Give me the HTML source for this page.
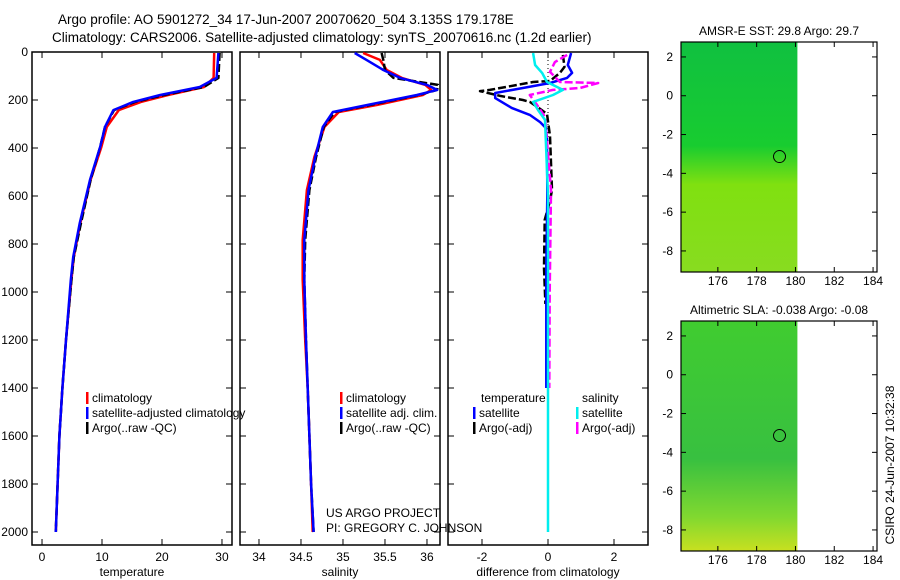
<!DOCTYPE html>
<html><head><meta charset="utf-8"><style>
body{margin:0;background:#fff}
svg{display:block;font-family:"Liberation Sans",sans-serif}
</style></head><body>
<svg id="fig" width="900" height="580" viewBox="0 0 900 580" xmlns="http://www.w3.org/2000/svg">
<text x="58" y="24" font-size="13.5">Argo profile: AO 5901272_34 17-Jun-2007 20070620_504 3.135S 179.178E</text>
<text x="52" y="42" font-size="13.5">Climatology: CARS2006. Satellite-adjusted climatology: synTS_20070616.nc (1.2d earlier)</text>
<g id="charts"></g>
<text transform="translate(894,465) rotate(-90)" font-size="12" text-anchor="middle">CSIRO 24-Jun-2007 10:32:38</text>
</svg>
<script>
// ---- data ----
const depthTicks=[0,200,400,600,800,1000,1200,1400,1600,1800,2000];
const tempTicks=[0,10,20,30];
const salTicks=[34,34.5,35,35.5,36];
const diffTicks=[-2,0,2];
const lonTicks=[176,178,180,182,184];
const latTicks=[2,0,-2,-4,-6,-8];
const tDepth=[4,108,146,179,208,242,312,395,533,712,854,950,1200,1400,1600,1800,2000];
const tSat=[29.4,29.1,26.3,19.7,15.2,11.9,10.5,9.7,8,6.3,5.2,4.8,4.0,3.4,2.9,2.6,2.3];
const tClim=[28.7,28.6,27.0,21.0,16.5,12.8,10.8,9.9,8.1,6.4,5.3,4.9,4.0,3.4,2.9,2.6,2.3];
const tArgo=[29.6,29.4,27.0,20.3,15.5,12.0,10.5,9.7,8.1,6.5,5.3,4.9,4.0,3.4,2.9,2.6,2.3];
const sDepth=[4,33,75,108,137,158,179,221,250,312,437,575,783,950,1200,1400,1600,1800,2000];
const sSat=[35.14,35.28,35.48,35.68,36.0,36.12,35.88,35.29,34.88,34.76,34.67,34.59,34.54,34.54,34.56,34.58,34.6,34.62,34.65];
const sClim=[35.24,35.44,35.52,35.7,35.98,36.05,35.95,35.4,34.95,34.78,34.66,34.57,34.52,34.52,34.55,34.58,34.6,34.62,34.64];
const sArgo=[35.46,35.48,35.5,35.6,36.13,36.12,35.9,35.32,34.9,34.77,34.68,34.6,34.55,34.54,34.56,34.58,34.6,34.62,34.65];
const dtDepth=[4,54,87,108,129,150,171,192,233,262,292,317,367,600,900,1200,1400];
const dtSat=[0.7,0.6,0.73,0.58,0.06,-0.76,-1.6,-1.6,-1.1,-0.55,-0.24,-0.06,-0.03,-0.02,-0.05,-0.05,-0.05];
const daDepth=[12,62,87,121,125,158,163,183,200,208,237,258,350,575,620,700,900,1050];
const daTemp=[0.45,0.5,0.36,0.06,-0.45,-1.76,-2.06,-1.45,-0.76,-0.55,-0.24,-0.03,0.06,0.12,0.06,-0.1,-0.12,-0.08];
const dsDepth=[4,54,87,125,158,179,208,242,283,600,1000,1500,2000];
const dsSat=[-0.45,-0.39,-0.18,-0.03,0.45,0.15,-0.45,-0.3,-0.09,0,0,0,0];
const dsaDepth=[12,42,83,125,129,150,158,179,221,271,575,1000,1400];
const dsArgo=[0.58,0.21,0.06,0.36,1.52,0.97,0.15,-0.55,-0.33,-0.09,0.09,0.05,0.04];
const argoLon=179.178, argoLat=-3.135;
// ---- helpers ----
const NS="http://www.w3.org/2000/svg";
const root=document.getElementById('charts');
function el(tag,attrs,parent){const e=document.createElementNS(NS,tag);for(const k in attrs)e.setAttribute(k,attrs[k]);(parent||root).appendChild(e);return e;}
function txt(x,y,s,anchor,size,parent){const t=el('text',{x:x,y:y,'font-size':size||12,'text-anchor':anchor||'start'},parent);t.textContent=s;return t;}
const yD=d=>52+d*0.24;
function panel(name,x0,x1,xmin,xmax,xticks,label,showY){
  const g=el('g',{});
  
  
  const sx=v=>x0+(v-xmin)/(xmax-xmin)*(x1-x0);
  el('rect',{x:x0,y:52,width:x1-x0,height:493,fill:'none',stroke:'#000','stroke-width':1.5},g);
  xticks.forEach(v=>{const x=sx(v);el('line',{x1:x,x2:x,y1:545,y2:539,stroke:'#000'},g);el('line',{x1:x,x2:x,y1:52,y2:58,stroke:'#000'},g);
    const t=txt(x,561,String(v),'middle',12,g);});
  depthTicks.forEach(d=>{const y=yD(d);el('line',{x1:x0,x2:x0+6,y1:y,y2:y,stroke:'#000'},g);el('line',{x1:x1,x2:x1-6,y1:y,y2:y,stroke:'#000'},g);
    if(showY){const t=txt(28,y+4,String(d),'end',12,g);}});
  const l=txt((x0+x1)/2,576,label,'middle',12,g);
  
  
  return {g,sx};
}
function line(p,depths,vals,color,dash,name){
  const pts=depths.map((d,i)=>p.sx(vals[i]).toFixed(1)+','+yD(d).toFixed(1)).join(' ');
  const e=el('polyline',{points:pts,fill:'none',stroke:color,'stroke-width':2.5,'stroke-dasharray':dash||'none','stroke-linejoin':'round'},p.g);
  
  
}
function legend(g,x,y,items){items.forEach((it,i)=>{el('rect',{x:x,y:y+i*15-10,width:2.5,height:12,fill:it[1]},g);
  const t=txt(x+6,y+i*15,it[0],'start',12,g);});}
// temperature panel
const p1=panel('temperature-panel',32,232,-1.67,31.67,tempTicks,'temperature',true);
line(p1,tDepth,tClim,'#f00',null,'temp-climatology-line');
line(p1,tDepth,tArgo,'#000','8,3','temp-argo-line');
line(p1,tDepth,tSat,'#00f',null,'temp-satellite-line');
legend(p1.g,86,402,[['climatology','#f00'],['satellite-adjusted climatology','#00f'],['Argo(..raw -QC)','#000']]);
// salinity panel
const p2=panel('salinity-panel',240,440,33.774,36.155,salTicks,'salinity',false);
line(p2,sDepth,sClim,'#f00',null,'sal-climatology-line');
line(p2,sDepth,sArgo,'#000','8,3','sal-argo-line');
line(p2,sDepth,sSat,'#00f',null,'sal-satellite-line');
legend(p2.g,340,402,[['climatology','#f00'],['satellite adj. clim.','#00f'],['Argo(..raw -QC)','#000']]);
txt(326,517,'US ARGO PROJECT','start',12,p2.g);
txt(326,532,'PI: GREGORY C. JOHNSON','start',12,p2.g);
// diff panel
const p3=panel('difference-panel',448,648,-3.03,3.03,diffTicks,'difference from climatology',false);
el('line',{x1:p3.sx(0),x2:p3.sx(0),y1:52,y2:150,stroke:'#000','stroke-dasharray':'1,3'},p3.g);
line(p3,daDepth,daTemp,'#000','8,3','diff-temp-argo-line');
line(p3,dtDepth,dtSat,'#00f',null,'diff-temp-satellite-line');
line(p3,dsaDepth,dsArgo,'#f0f','8,3','diff-sal-argo-line');
line(p3,dsDepth,dsSat,'#0ee',null,'diff-sal-satellite-line');
txt(481,402,'temperature','start',12,p3.g);txt(582,402,'salinity','start',12,p3.g);
legend(p3.g,473,417,[['satellite','#00f'],['Argo(-adj)','#000']]);
legend(p3.g,576,417,[['satellite','#0ee'],['Argo(-adj)','#f0f']]);
// maps
function map(name,top,title,stops){
  const g=el('g',{});
  
  
  const x0=681,x1=877,h=230;
  const sx=v=>x0+(v-174.1)*19.4, sy=v=>top+(2.77-v)*19.4;
  const gid=name+'-grad';
  const defs=el('defs',{},g);const lg=el('linearGradient',{id:gid,x1:0,y1:0,x2:0,y2:1},defs);
  stops.forEach(s=>el('stop',{offset:s[0],'stop-color':s[1]},lg));
  const r=el('rect',{x:x0,y:top,width:sx(180.1)-x0,height:h,fill:'url(#'+gid+')'},g);
  
  
  el('rect',{x:x0,y:top,width:x1-x0,height:h,fill:'none',stroke:'#000','stroke-width':1.2},g);
  lonTicks.forEach(v=>{const x=sx(v);el('line',{x1:x,x2:x,y1:top+h,y2:top+h-5,stroke:'#000'},g);el('line',{x1:x,x2:x,y1:top,y2:top+5,stroke:'#000'},g);txt(x,top+h+13,String(v),'middle',12,g);});
  latTicks.forEach(v=>{const y=sy(v);el('line',{x1:x0,x2:x0+5,y1:y,y2:y,stroke:'#000'},g);el('line',{x1:x1,x2:x1-5,y1:y,y2:y,stroke:'#000'},g);txt(673,y+4,String(v),'end',12,g);});
  const c=el('circle',{cx:sx(argoLon),cy:sy(argoLat),r:6,fill:'none',stroke:'#000','stroke-width':1},g);
  
  
  const t=txt(779,top-7,title,'middle',12,g);
  
  
}
map('sst-map',42,'AMSR-E SST: 29.8 Argo: 29.7',[['0','#10c040'],['0.45','#18cc30'],['0.62','#80e010'],['1','#88dc20']]);
map('sla-map',321,'Altimetric SLA: -0.038 Argo: -0.08',[['0','#40cc30'],['0.6','#38c040'],['0.85','#80d830'],['1','#c8e020']]);
</script>
</body></html>
